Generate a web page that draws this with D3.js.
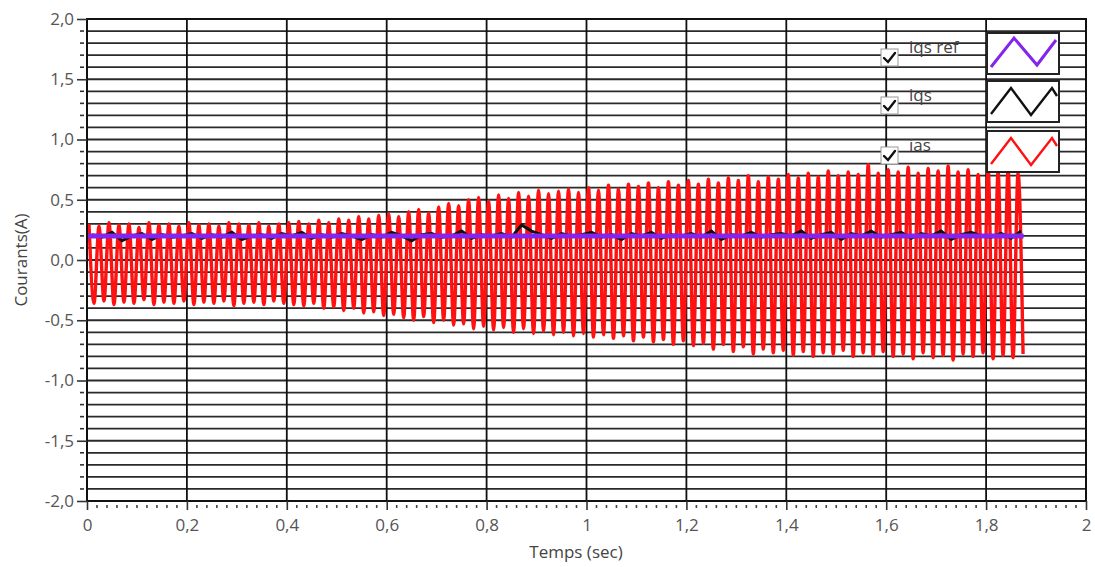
<!DOCTYPE html>
<html><head><meta charset="utf-8">
<script src="https://cdn.jsdelivr.net/npm/d3@7"></script>
<style>
body{margin:0;background:#fff;}
svg{display:block;font-family:"Open Sans","Noto Sans",sans-serif;}
</style>
</head><body><svg id="c" width="1095" height="567"></svg>
<script>
// ---------------- data ----------------
const seriesNames = ["iqs ref", "iqs", "ias"];
const seriesColors = ["#8425ee", "#111111", "#ff1111"];
const xTickValues = [0, 0.2, 0.4, 0.6, 0.8, 1, 1.2, 1.4, 1.6, 1.8, 2];
const xTickLabels = ["0", "0,2", "0,4", "0,6", "0,8", "1", "1,2", "1,4", "1,6", "1,8", "2"];
const yTickValues = [2, 1.5, 1, 0.5, 0, -0.5, -1, -1.5, -2];
const yTickLabels = ["2,0", "1,5", "1,0", "0,5", "0,0", "-0,5", "-1,0", "-1,5", "-2,0"];
const xLabel = "Temps (sec)";
const yLabel = "Courants(A)";

const cyclePeriod = 0.02;      // 50 Hz phase current, one max/min per cycle
const iasMax = [
  0.30,0.28,0.31,0.29,0.30,0.27,0.31,0.29,0.30,0.28,
  0.31,0.29,0.30,0.28,0.31,0.30,0.29,0.31,0.28,0.30,
  0.31,0.32,0.30,0.33,0.31,0.34,0.33,0.36,0.34,0.37,
  0.38,0.36,0.40,0.42,0.39,0.44,0.47,0.45,0.50,0.52,
  0.49,0.54,0.51,0.56,0.53,0.58,0.55,0.57,0.59,0.56,
  0.60,0.58,0.62,0.59,0.63,0.61,0.64,0.60,0.65,0.62,
  0.66,0.63,0.67,0.64,0.68,0.66,0.70,0.65,0.69,0.67,
  0.71,0.68,0.72,0.69,0.74,0.70,0.73,0.71,0.79,0.72,
  0.75,0.73,0.77,0.72,0.76,0.74,0.78,0.73,0.75,0.71,
  0.76,0.73,0.75,0.72
];
const iasMin = [
  -0.36,-0.34,-0.37,-0.35,-0.36,-0.33,-0.37,-0.35,-0.36,-0.34,
  -0.37,-0.35,-0.36,-0.34,-0.38,-0.36,-0.35,-0.37,-0.34,-0.36,
  -0.37,-0.38,-0.36,-0.40,-0.39,-0.42,-0.40,-0.44,-0.43,-0.46,
  -0.45,-0.48,-0.50,-0.47,-0.52,-0.50,-0.54,-0.53,-0.57,-0.55,
  -0.58,-0.56,-0.60,-0.57,-0.61,-0.59,-0.62,-0.60,-0.63,-0.61,
  -0.64,-0.62,-0.65,-0.63,-0.67,-0.64,-0.68,-0.66,-0.70,-0.67,
  -0.71,-0.69,-0.74,-0.70,-0.76,-0.72,-0.78,-0.74,-0.77,-0.75,
  -0.79,-0.76,-0.80,-0.77,-0.78,-0.75,-0.80,-0.77,-0.79,-0.76,
  -0.80,-0.78,-0.82,-0.77,-0.81,-0.79,-0.83,-0.78,-0.80,-0.77,
  -0.82,-0.79,-0.81,-0.78
];
const iqs = [
  0.21,0.19,0.23,0.16,0.20,0.22,0.17,0.21,0.19,0.20,
  0.22,0.18,0.21,0.19,0.23,0.17,0.20,0.21,0.18,0.22,
  0.20,0.23,0.18,0.21,0.19,0.22,0.20,0.17,0.21,0.19,
  0.23,0.20,0.16,0.21,0.22,0.19,0.20,0.24,0.18,0.21,
  0.20,0.22,0.19,0.29,0.24,0.21,0.18,0.22,0.20,0.21,
  0.23,0.19,0.21,0.17,0.22,0.20,0.23,0.18,0.21,0.20,
  0.22,0.19,0.24,0.17,0.21,0.20,0.23,0.19,0.21,0.22,
  0.20,0.24,0.18,0.21,0.23,0.17,0.22,0.20,0.24,0.19,
  0.21,0.23,0.18,0.22,0.20,0.24,0.17,0.21,0.23,0.20,
  0.19,0.22,0.18,0.24
];
const iqsRefTimes = [0, 1.875];
const iqsRefValues = [0.2, 0.2];

// ---------------- chart ----------------
const FS = 17;
const svg = d3.select("#c");
const x = d3.scaleLinear().domain([0, 2]).range([87, 1086]);
const y = d3.scaleLinear().domain([-2, 2]).range([501, 19]);
const X0 = x.range()[0], X1 = x.range()[1], Y0 = y.range()[0], Y1 = y.range()[1];

svg.append("rect").attr("width", 1095).attr("height", 567).attr("fill", "#fff");
svg.append("rect").attr("x", X0).attr("y", Y1).attr("width", X1 - X0).attr("height", Y0 - Y1).attr("fill", "#fff");

// grid
const gGrid = svg.append("g");
gGrid.selectAll("line.h").data(y.ticks(40).filter(d => d > -2 && d < 2)).join("line")
  .attr("x1", X0).attr("x2", X1).attr("y1", d => y(d)).attr("y2", d => y(d))
  .attr("stroke", "#2a2a2a").attr("stroke-width", 1.8);
gGrid.selectAll("line.v").data(xTickValues.filter(d => d > 0 && d < 2)).join("line")
  .attr("y1", Y1).attr("y2", Y0).attr("x1", d => x(d)).attr("x2", d => x(d))
  .attr("stroke", "#111").attr("stroke-width", 1.8);

// series
const plot = svg.append("g");
const iasPts = [];
iasMax.forEach((v, k) => {
  iasPts.push([k * cyclePeriod + 0.004, v]);
  iasPts.push([k * cyclePeriod + 0.014, iasMin[k]]);
});
const line = d3.line().x(d => x(d[0])).y(d => y(d[1]));
const smooth = d3.line().x(d => x(d[0])).y(d => y(d[1])).curve(d3.curveMonotoneX);
plot.append("path").datum(iasPts).attr("d", smooth)
  .attr("fill", "none").attr("stroke", seriesColors[2]).attr("stroke-width", 3.4).attr("stroke-linejoin", "round");
const iqsPts = iqs.map((v, k) => [k * cyclePeriod + 0.01, v]);
plot.append("path").datum(iqsPts).attr("d", line)
  .attr("fill", "none").attr("stroke", seriesColors[1]).attr("stroke-width", 3);
const refPts = iqsRefTimes.map((t, i) => [t, iqsRefValues[i]]);
plot.append("path").datum(refPts).attr("d", line)
  .attr("fill", "none").attr("stroke", seriesColors[0]).attr("stroke-width", 5);

// frame
svg.append("rect").attr("x", X0).attr("y", Y1).attr("width", X1 - X0).attr("height", Y0 - Y1)
  .attr("fill", "none").attr("stroke", "#111").attr("stroke-width", 2);

// y axis
const yAxis = svg.append("g").attr("transform", `translate(${X0},0)`)
  .call(d3.axisLeft(y).tickValues(yTickValues).tickFormat((d, i) => yTickLabels[i]).tickSize(10).tickPadding(3));
yAxis.select(".domain").remove();
yAxis.selectAll(".tick line").attr("stroke", "#333").attr("stroke-width", 1.6);
yAxis.selectAll(".tick text").attr("fill", "#555").attr("font-size", FS).attr("font-family", "Open Sans");
svg.append("g").selectAll("line").data(y.ticks(40).filter(d => !yTickValues.some(t => Math.abs(t - d) < 1e-9))).join("line")
  .attr("x1", X0 - 7).attr("x2", X0 - 3).attr("y1", d => y(d)).attr("y2", d => y(d))
  .attr("stroke", "#333").attr("stroke-width", 1.6);

// x axis
const xAxis = svg.append("g").attr("transform", `translate(0,${Y0})`)
  .call(d3.axisBottom(x).tickValues(xTickValues).tickFormat((d, i) => xTickLabels[i]).tickSize(9).tickPadding(9));
xAxis.select(".domain").remove();
xAxis.selectAll(".tick line").attr("stroke", "#333").attr("stroke-width", 1.6);
xAxis.selectAll(".tick text").attr("fill", "#555").attr("font-size", FS).attr("font-family", "Open Sans");
svg.append("g").selectAll("line").data(x.ticks(100).filter(d => !xTickValues.some(t => Math.abs(t - d) < 1e-9))).join("line")
  .attr("x1", d => x(d)).attr("x2", d => x(d)).attr("y1", Y0 + 4).attr("y2", Y0 + 7)
  .attr("stroke", "#444").attr("stroke-width", 1.6);

// axis titles
svg.append("text").attr("x", 576).attr("y", 558).attr("text-anchor", "middle")
  .attr("font-size", FS).attr("fill", "#444").text(xLabel);
svg.append("text").attr("transform", "translate(27,260) rotate(-90)").attr("text-anchor", "middle")
  .attr("font-size", FS).attr("fill", "#444").text(yLabel);

// legend
const legTop = [33, 81, 131];
const leg = svg.append("g");
seriesNames.forEach((name, i) => {
  const top = legTop[i];
  // checkbox
  leg.append("rect").attr("x", 881).attr("y", top + 16).attr("width", 17).attr("height", 17)
    .attr("fill", "#fff").attr("stroke", "#999").attr("stroke-width", 1);
  leg.append("path").attr("d", `M${884},${top + 25} L${888},${top + 29} L${895},${top + 20}`)
    .attr("fill", "none").attr("stroke", "#111").attr("stroke-width", 2.4).attr("stroke-linecap", "round");
  leg.append("text").attr("x", 909).attr("y", top + 20).attr("font-size", FS).attr("fill", "#444").text(name);
  // swatch
  leg.append("rect").attr("x", 987).attr("y", top).attr("width", 72).attr("height", 41)
    .attr("fill", "#fff").attr("stroke", "#222").attr("stroke-width", 2);
  const h = 41;
  const sw = i === 0
    ? [[991, top + h - 7], [1014, top + 5], [1037, top + h - 9], [1056, top + 7]]
    : [[991, top + h - 8], [1011, top + 7], [1031, top + h - 7], [1052, top + 7], [1057, top + 15]];
  leg.append("path").attr("d", d3.line()(sw)).attr("fill", "none")
    .attr("stroke", seriesColors[i]).attr("stroke-width", i === 0 ? 3 : 2.4);
});
</script>
</body></html>
